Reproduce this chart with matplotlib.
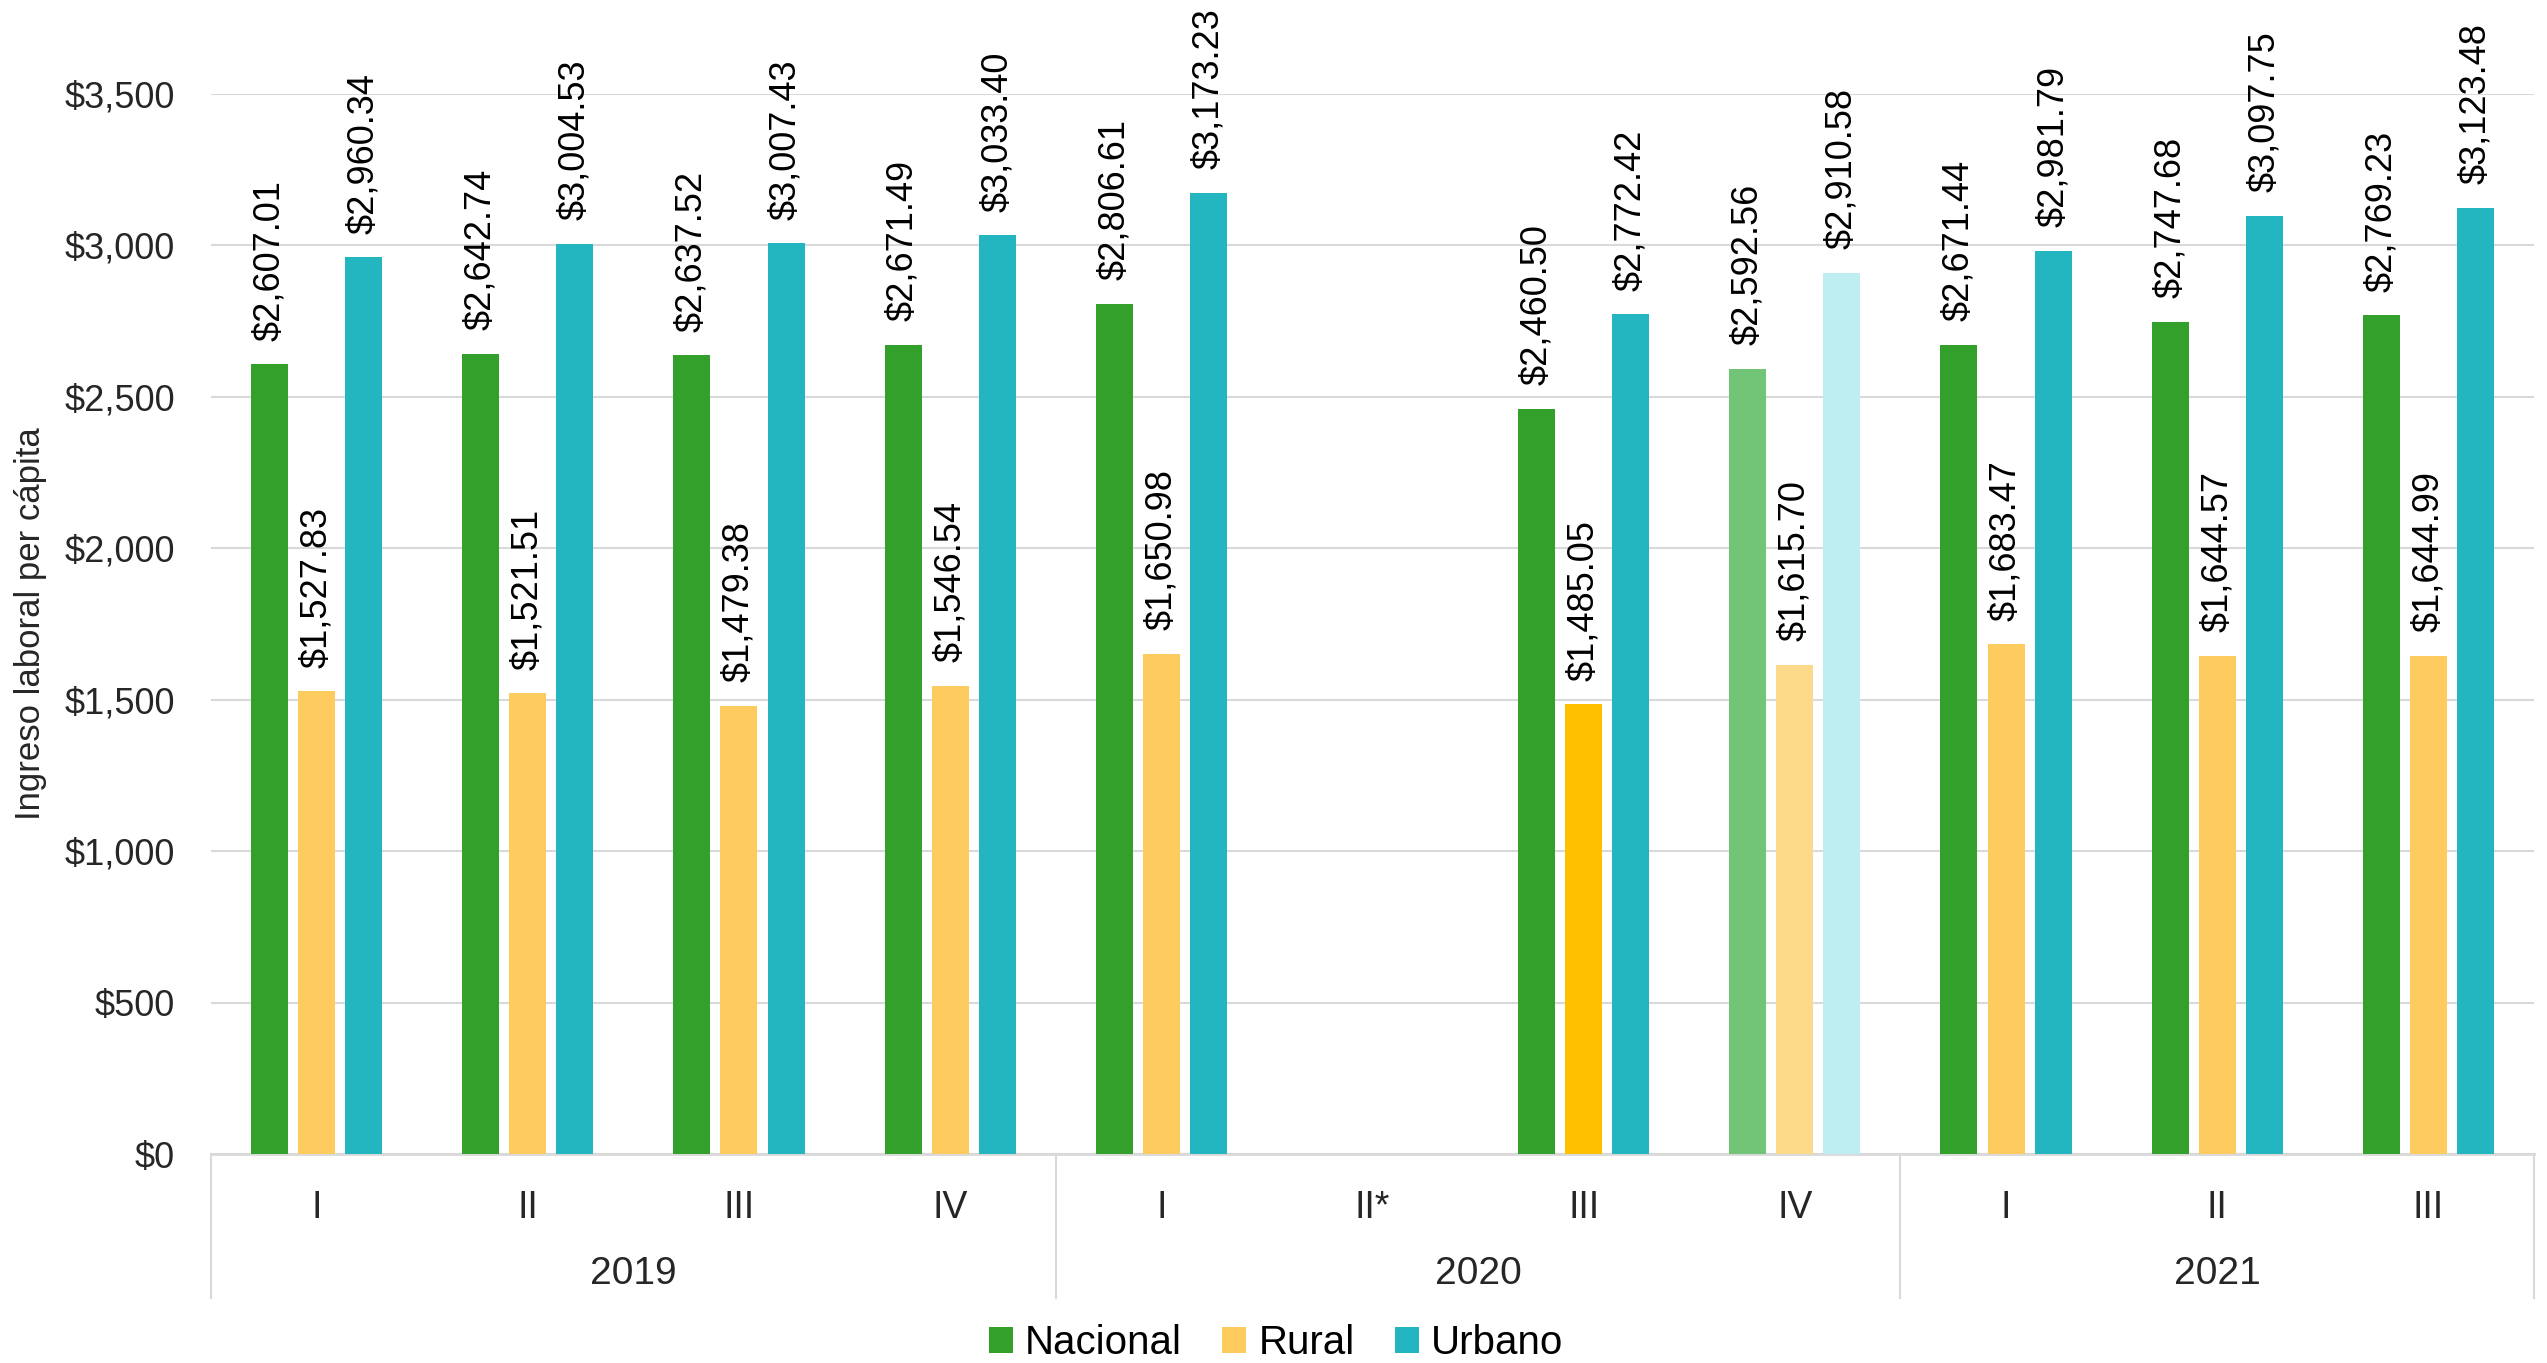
import numpy as np
import matplotlib
matplotlib.use("Agg")
import matplotlib.pyplot as plt
from matplotlib.patches import Patch
import matplotlib.transforms as mtransforms
from matplotlib import font_manager

# ---------------- data ----------------
quarters = ["I", "II", "III", "IV", "I", "II*", "III", "IV", "I", "II", "III"]
years = ["2019", "2020", "2021"]
year_spans = [(0, 3), (4, 7), (8, 10)]
series_names = ["Nacional", "Rural", "Urbano"]
nacional = [2607.01, 2642.74, 2637.52, 2671.49, 2806.61, np.nan, 2460.50, 2592.56, 2671.44, 2747.68, 2769.23]
rural = [1527.83, 1521.51, 1479.38, 1546.54, 1650.98, np.nan, 1485.05, 1615.70, 1683.47, 1644.57, 1644.99]
urbano = [2960.34, 3004.53, 3007.43, 3033.40, 3173.23, np.nan, 2772.42, 2910.58, 2981.79, 3097.75, 3123.48]
yticks = [0, 500, 1000, 1500, 2000, 2500, 3000, 3500]

# ---------------- styles ----------------
base_colors = ["#34A02C", "#FECB5E", "#23B6C1"]
override_colors = {
    (1, 6): "#FFC000",
    (0, 7): "#72C476",
    (1, 7): "#FDD98A",
    (2, 7): "#BFEEF2",
}

avail = {f.name for f in font_manager.fontManager.ttflist}
has_narrow = "Liberation Sans Narrow" in avail
narrow = "Liberation Sans Narrow" if has_narrow else "Liberation Sans"
label_size = 31.5 if has_narrow else 26
legend_size = 33 if has_narrow else 29
reg = "Liberation Sans"
plt.rcParams["font.family"] = [reg, "DejaVu Sans"]

W, H = 2547, 1363
fig = plt.figure(figsize=(W / 100, H / 100), dpi=100)
ax_left, ax_right = 211 / W, 2534 / W
ax_bottom, ax_top = (H - 1154) / H, (H - 94) / H
ax = fig.add_axes([ax_left, ax_bottom, ax_right - ax_left, ax_top - ax_bottom])

x = np.arange(len(quarters))
bw = 0.175
off = 0.223
grid_c = "#D9D9D9"

for si, vals in enumerate([nacional, rural, urbano]):
    cols = [override_colors.get((si, i), base_colors[si]) for i in range(len(vals))]
    xs = x + (si - 1) * off
    ax.bar(xs, vals, width=bw, color=cols, zorder=3, label=series_names[si])
    for xi, v in zip(xs, vals):
        if np.isnan(v):
            continue
        ax.annotate(f"${v:,.2f}", xy=(xi, v), xytext=(0, 17), textcoords="offset points",
                    rotation=90, ha="center", va="bottom", fontsize=label_size,
                    family=[narrow, "DejaVu Sans"], color="black", annotation_clip=False)

ax.set_xlim(-0.5, len(quarters) - 0.5)
ax.set_ylim(0, 3500)
ax.set_yticks(yticks)
ax.set_yticklabels([f"${t:,.0f}" for t in yticks], fontsize=26, color="#262626")
ax.tick_params(axis="y", length=0, pad=26)
ax.yaxis.grid(True, color=grid_c, linewidth=1.5, zorder=0)
ax.set_axisbelow(True)
for s in ["top", "right", "left"]:
    ax.spines[s].set_visible(False)
ax.spines["bottom"].set_color(grid_c)
ax.spines["bottom"].set_linewidth(2)

ax.set_xticks(x)
ax.set_xticklabels(quarters, fontsize=27, color="#262626")
ax.tick_params(axis="x", length=0, pad=26)

ax.set_ylabel("Ingreso laboral per cápita", fontsize=25, color="#262626")
ax.yaxis.set_label_coords(-(211 - 47) / (2534 - 211), 0.5)

trans = mtransforms.blended_transform_factory(ax.transData, ax.transAxes)
axh = 1154 - 94
sep_bottom = -(1298 - 1154) / axh
bounds = [-0.5, 3.5, 7.5, 10.5]
for b in bounds:
    ax.plot([b, b], [0, sep_bottom], transform=trans, color=grid_c, lw=1.5, clip_on=False)
for yr, (a, bnd) in zip(years, year_spans):
    ax.text((a + bnd) / 2, -(1274 - 1154) / axh, yr, transform=trans, ha="center", va="center",
            fontsize=28, color="#262626")

handles = [Patch(facecolor=c) for c in base_colors]
fig.legend(handles, series_names, loc="center", bbox_to_anchor=(0.501, 20 / H), ncol=3,
           frameon=False, prop={"family": [narrow, "DejaVu Sans"], "size": legend_size},
           handlelength=0.6, handleheight=0.6, handletextpad=0.3, columnspacing=1.0)

fig.savefig("out.png", dpi=100, facecolor="white")
